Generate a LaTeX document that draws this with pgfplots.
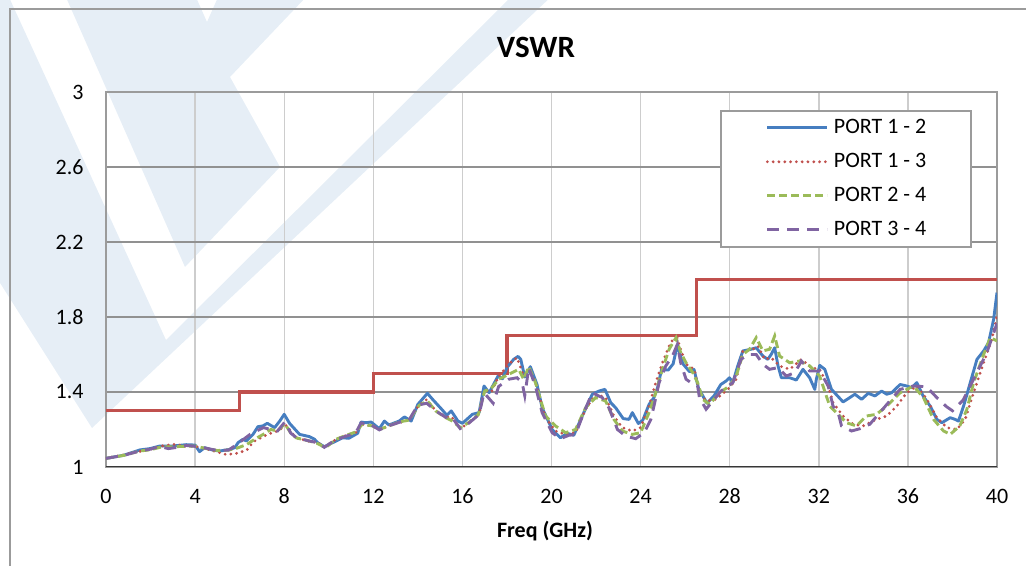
\documentclass[border=0pt]{standalone}
\usepackage{fontspec}
\setmainfont{Carlito}
\usepackage{pgfplots}
\pgfplotsset{compat=1.18}
\definecolor{wm}{RGB}{230,238,246}
\definecolor{framegray}{RGB}{155,155,155}
\definecolor{hgrid}{RGB}{145,145,145}
\definecolor{vgrid}{RGB}{205,205,205}
\definecolor{axdark}{RGB}{55,55,55}
\definecolor{sblue}{RGB}{70,126,192}
\definecolor{sred}{RGB}{192,80,77}
\definecolor{sgreen}{RGB}{155,187,89}
\definecolor{spurple}{RGB}{128,100,162}
\begin{document}
\begin{tikzpicture}
\useasboundingbox (-53pt,-49.5pt) rectangle (460pt,233.5pt);
\begin{scope}[shift={(-53pt,233.5pt)}, x=0.5pt, y=-0.5pt]
\fill[wm] (-5,-5) -- (8,-5) -- (166,340) -- (513,-5) -- (553,-5) -- (92,428) -- (-5,275) -- cycle;
\fill[wm] (65,-5) -- (195,-5) -- (207,22) -- (219,-5) -- (308,-5) -- (230,77) -- (280,167) -- (185,267) -- cycle;
\draw[framegray, line width=0.85pt] (10,600) -- (10,9) -- (1100,9);
\end{scope}
\begin{axis}[
  at={(0,0)}, anchor=south west,
  scale only axis, width=445.5pt, height=187.5pt,
  xmin=0, xmax=40, ymin=1, ymax=3,
  xtick={0,4,8,12,16,20,24,28,32,36,40},
  ytick={1,1.4,1.8,2.2,2.6,3},
  yticklabels={1,1.4,1.8,2.2,2.6,3},
  major tick length=0pt,
  xmajorgrids, ymajorgrids,
  every axis x grid/.append style={vgrid, line width=0.7pt},
  every axis y grid/.append style={hgrid, line width=0.7pt},
  axis line style={framegray, line width=0.8pt},
  /pgf/number format/assume math mode=true,
  ticklabel style={font=\fontsize{11}{13}\selectfont, inner sep=0pt, text=black},
  xticklabel style={anchor=base, yshift=-18.5pt},
  yticklabel style={anchor=east, xshift=-11pt},
  title={VSWR},
  title style={at={(0.4826,1)}, anchor=base, yshift=11pt, inner sep=0pt, font=\bfseries\fontsize{15.5}{18}\selectfont},
  xlabel={Freq (GHz)},
  xlabel style={at={(0.4927,0)}, anchor=base, yshift=-35.5pt, inner sep=0pt, font=\bfseries\fontsize{11}{13}\selectfont},
  legend style={at={(0.972,0.952)}, anchor=north east, draw=framegray, line width=0.8pt, fill=white,
    font=\fontsize{11}{13}\selectfont, inner xsep=22.5pt, inner ysep=3.5pt, row sep=7pt,
    nodes={inner sep=0pt, text height=8pt, text depth=2pt}},
  legend cell align=left,
  legend image code/.code={\draw[#1] (0pt,0pt) -- (30pt,0pt); \path (32.5pt,0pt);},
]
\addplot[sred, line width=1.6pt, forget plot] coordinates {(0,1.3)(6,1.3)(6,1.4)(12,1.4)(12,1.5)(18,1.5)(18,1.7)(26.5,1.7)(26.5,2)(40,2)};

\addplot[sblue, line width=1.45pt, line join=round] coordinates {
(0,1.046)(0.78,1.062)(1.52,1.091)(1.97,1.098)(2.42,1.112)(3.0,1.112)(3.6,1.119)(4.0,1.117)(4.2,1.082)(4.43,1.103)(4.8,1.09)(5.1,1.085)(5.55,1.094)(5.78,1.103)(5.93,1.13)(6.15,1.148)(6.3,1.139)(6.6,1.174)(6.82,1.215)(7.04,1.219)(7.24,1.233)(7.57,1.21)(7.8,1.245)(8.0,1.281)(8.24,1.233)(8.69,1.174)(9.13,1.162)(9.36,1.148)(9.5,1.13)(9.8,1.108)(10.18,1.13)(10.63,1.156)(10.9,1.153)(11.3,1.18)(11.45,1.24)(11.67,1.236)(11.9,1.24)(12.27,1.204)(12.5,1.245)(12.7,1.224)(13.16,1.245)(13.4,1.267)(13.7,1.245)(14.0,1.334)(14.43,1.393)(14.66,1.361)(15.1,1.304)(15.3,1.276)(15.5,1.299)(15.8,1.245)(16.0,1.233)(16.45,1.281)(16.75,1.29)(16.97,1.432)(17.2,1.396)(17.6,1.485)(17.8,1.47)(18.0,1.53)(18.3,1.574)(18.5,1.59)(18.62,1.574)(18.8,1.48)(19.05,1.535)(19.35,1.44)(19.58,1.316)(20.03,1.2)(20.4,1.156)(20.7,1.18)(21.0,1.169)(21.38,1.272)(21.83,1.388)(22.13,1.405)(22.4,1.414)(22.66,1.343)(22.88,1.316)(23.22,1.258)(23.48,1.254)(23.63,1.29)(23.9,1.232)(24.1,1.25)(24.38,1.334)(24.6,1.37)(24.76,1.423)(24.94,1.52)(25.24,1.517)(25.46,1.55)(25.65,1.65)(25.9,1.55)(26.2,1.508)(26.4,1.52)(26.6,1.42)(26.98,1.34)(27.3,1.38)(27.6,1.44)(27.84,1.459)(27.99,1.476)(28.14,1.45)(28.36,1.539)(28.59,1.619)(28.96,1.628)(29.19,1.636)(29.49,1.592)(29.71,1.574)(29.86,1.6)(30.02,1.636)(30.17,1.539)(30.32,1.476)(30.69,1.476)(30.99,1.464)(31.29,1.521)(31.59,1.476)(31.82,1.414)(31.89,1.468)(32.04,1.542)(32.27,1.521)(32.57,1.414)(33.09,1.347)(33.39,1.37)(33.62,1.388)(33.92,1.361)(34.22,1.393)(34.52,1.379)(34.82,1.405)(35.05,1.388)(35.27,1.396)(35.65,1.44)(35.95,1.432)(36.17,1.423)(36.4,1.45)(36.7,1.375)(37.0,1.325)(37.3,1.254)(37.52,1.236)(37.9,1.263)(38.12,1.254)(38.27,1.245)(38.5,1.325)(38.8,1.45)(39.1,1.574)(39.4,1.619)(39.62,1.663)(39.85,1.788)(40,1.93)};
\addlegendentry{PORT 1 - 2}

\addplot[sred, line width=1.55pt, line cap=round, dash pattern=on 0pt off 2.9pt] coordinates {
(0,1.046)(1,1.07)(2,1.095)(2.5,1.112)(3.1,1.121)(3.5,1.112)(4.0,1.11)(4.5,1.097)(5.0,1.08)(5.4,1.066)(5.87,1.073)(6.32,1.09)(6.62,1.135)(7.06,1.163)(7.4,1.18)(7.7,1.192)(8.1,1.222)(8.4,1.175)(8.55,1.156)(9.0,1.14)(9.5,1.13)(9.8,1.108)(10.3,1.145)(10.8,1.17)(11.2,1.18)(11.45,1.228)(11.9,1.22)(12.3,1.2)(12.7,1.22)(13.2,1.238)(13.6,1.25)(14.05,1.33)(14.4,1.36)(14.8,1.3)(15.3,1.265)(15.5,1.27)(15.9,1.205)(16.3,1.235)(16.75,1.28)(17.0,1.41)(17.3,1.4)(17.63,1.485)(18.15,1.556)(18.45,1.583)(18.75,1.485)(18.98,1.521)(19.28,1.45)(19.73,1.263)(20.18,1.192)(20.63,1.174)(21.08,1.183)(21.53,1.308)(21.98,1.388)(22.43,1.37)(22.8,1.272)(23.18,1.21)(23.63,1.192)(24.0,1.21)(24.38,1.325)(24.68,1.45)(24.98,1.556)(25.28,1.645)(25.59,1.708)(25.8,1.628)(26.04,1.548)(26.41,1.521)(26.64,1.396)(26.94,1.352)(27.39,1.361)(27.99,1.423)(28.29,1.468)(28.59,1.619)(29.04,1.628)(29.27,1.645)(29.57,1.574)(29.86,1.583)(30.24,1.539)(30.69,1.521)(31.22,1.574)(31.67,1.53)(32.04,1.521)(32.42,1.432)(32.64,1.343)(33.09,1.272)(33.54,1.228)(33.99,1.219)(34.59,1.254)(35.05,1.272)(35.5,1.325)(35.95,1.396)(36.4,1.432)(36.85,1.361)(37.3,1.263)(37.75,1.21)(38.2,1.2)(38.57,1.254)(38.95,1.396)(39.4,1.556)(39.77,1.681)(40.0,1.806)};
\addlegendentry{PORT 1 - 3}

\addplot[sgreen, line width=1.45pt, dash pattern=on 4pt off 2pt] coordinates {
(0,1.046)(0.8,1.062)(1.5,1.085)(2,1.092)(2.5,1.107)(3,1.108)(3.5,1.11)(4,1.112)(4.5,1.098)(5,1.088)(5.5,1.09)(5.87,1.1)(6.32,1.12)(6.7,1.15)(7.06,1.174)(7.4,1.2)(7.7,1.192)(8.03,1.23)(8.3,1.18)(8.55,1.155)(9.15,1.138)(9.5,1.125)(9.85,1.103)(10.33,1.148)(10.78,1.169)(11.22,1.187)(11.5,1.228)(11.97,1.219)(12.27,1.2)(12.7,1.219)(13.16,1.24)(13.6,1.25)(14.06,1.329)(14.43,1.352)(14.8,1.299)(15.25,1.263)(15.55,1.245)(15.9,1.21)(16.27,1.236)(16.72,1.281)(17.0,1.405)(17.3,1.42)(17.63,1.468)(18.23,1.503)(18.53,1.521)(18.75,1.468)(18.98,1.535)(19.28,1.45)(19.73,1.272)(20.18,1.219)(20.63,1.183)(21.08,1.2)(21.53,1.316)(21.98,1.37)(22.43,1.352)(22.8,1.254)(23.18,1.192)(23.63,1.174)(24.0,1.183)(24.38,1.29)(24.68,1.396)(24.98,1.521)(25.28,1.628)(25.59,1.69)(25.8,1.61)(26.04,1.556)(26.34,1.503)(26.56,1.45)(26.79,1.361)(27.09,1.334)(27.54,1.396)(27.99,1.432)(28.29,1.485)(28.59,1.6)(28.89,1.628)(29.19,1.69)(29.49,1.619)(29.79,1.628)(30.02,1.699)(30.24,1.592)(30.69,1.556)(31.14,1.565)(31.59,1.539)(32.04,1.485)(32.49,1.325)(32.79,1.29)(33.24,1.236)(33.69,1.219)(34.14,1.272)(34.59,1.281)(35.05,1.325)(35.65,1.396)(36.25,1.432)(36.7,1.37)(37.15,1.254)(37.6,1.192)(37.9,1.174)(38.33,1.219)(38.65,1.308)(38.95,1.45)(39.4,1.6)(39.7,1.69)(40,1.672)};
\addlegendentry{PORT 2 - 4}

\addplot[spurple, line width=1.45pt, dash pattern=on 6pt off 4pt] coordinates {
(0,1.046)(0.8,1.062)(1.5,1.085)(2,1.095)(2.4,1.11)(2.8,1.098)(3.2,1.105)(3.6,1.115)(4,1.11)(4.5,1.1)(5,1.088)(5.5,1.09)(5.87,1.12)(6.47,1.174)(7.06,1.21)(7.4,1.2)(7.7,1.192)(8.03,1.24)(8.3,1.18)(8.55,1.156)(9.15,1.138)(9.5,1.13)(9.8,1.105)(10.3,1.145)(10.8,1.165)(11.2,1.18)(11.45,1.235)(11.9,1.225)(12.27,1.198)(12.7,1.22)(13.16,1.238)(13.6,1.25)(14.0,1.33)(14.4,1.34)(14.8,1.3)(15.25,1.265)(15.5,1.27)(15.9,1.205)(16.3,1.235)(16.75,1.28)(16.97,1.396)(17.38,1.34)(17.63,1.43)(17.83,1.446)(18.08,1.468)(18.45,1.476)(18.68,1.45)(18.8,1.38)(18.98,1.53)(19.28,1.43)(19.58,1.29)(20.03,1.183)(20.4,1.151)(20.78,1.169)(21.08,1.174)(21.45,1.29)(21.83,1.396)(22.28,1.37)(22.58,1.316)(22.96,1.2)(23.33,1.165)(23.78,1.151)(24.16,1.183)(24.46,1.254)(24.6,1.325)(24.83,1.45)(25.13,1.539)(25.43,1.592)(25.65,1.654)(25.8,1.556)(26.04,1.468)(26.26,1.45)(26.56,1.432)(26.64,1.37)(26.94,1.308)(27.24,1.352)(27.61,1.405)(28.14,1.45)(28.51,1.574)(28.81,1.6)(29.19,1.6)(29.49,1.548)(29.79,1.521)(30.17,1.53)(30.54,1.485)(30.92,1.503)(31.22,1.565)(31.59,1.512)(32.04,1.512)(32.42,1.432)(32.64,1.325)(32.87,1.29)(33.02,1.219)(33.47,1.192)(33.84,1.204)(34.29,1.228)(34.74,1.29)(35.12,1.343)(35.65,1.414)(36.25,1.432)(36.83,1.428)(37.3,1.37)(37.73,1.322)(38.0,1.3)(38.48,1.357)(38.93,1.464)(39.53,1.606)(40,1.766)};
\addlegendentry{PORT 3 - 4}

\draw[axdark, line width=1.1pt] (rel axis cs:0,0) -- (rel axis cs:1,0);
\end{axis}
\end{tikzpicture}
\end{document}
